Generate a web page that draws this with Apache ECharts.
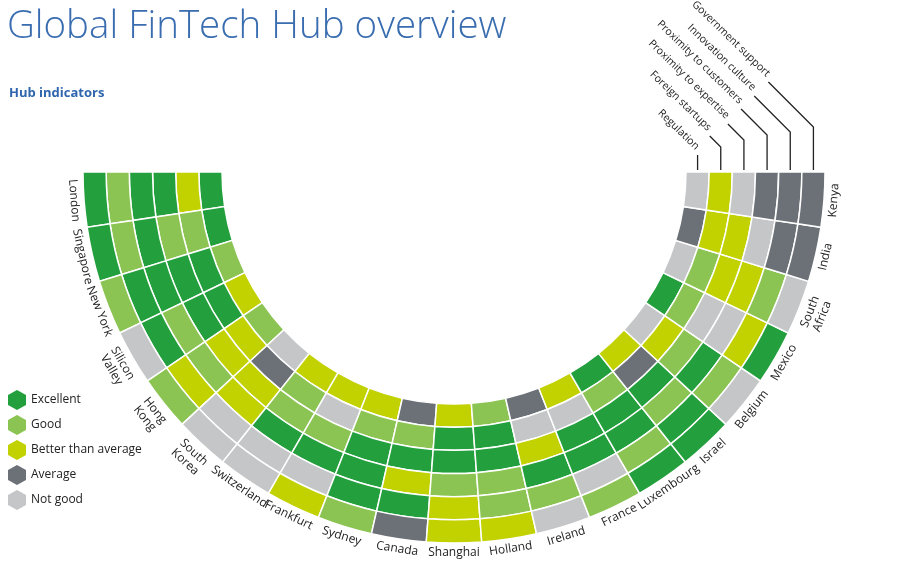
<!DOCTYPE html>
<html><head><meta charset="utf-8">
<script src="https://cdn.jsdelivr.net/npm/echarts@6/dist/echarts.min.js"></script>
<style>html,body{margin:0;padding:0;background:#fff}#c{width:900px;height:561px}</style>
</head><body><div id="c"></div>
<script>
const hubs = ['London','Singapore','New York','Silicon\nValley','Hong\nKong','South\nKorea','Switzerland','Frankfurt','Sydney','Canada','Shanghai','Holland','Ireland','France','Luxembourg','Israel','Belgium','Mexico','South\nAfrica','India','Kenya'];
const indicators = ['Regulation','Foreign startups','Proximity to expertise','Proximity to customers','Innovation culture','Government support'];
const levels = ['Excellent','Good','Better than average','Average','Not good'];
const levelColors = ['#23a03d','#8cc454','#c2d100','#6b7177','#c4c6c8'];
// codes: E Excellent, G Good, B Better than average, A Average, N Not good
const regulation      = ['E','E','G','B','G','N','B','B','B','A','B','G','A','B','E','B','N','E','N','A','N'];
const foreignStartups = ['B','G','E','E','B','A','G','N','G','G','E','E','N','N','G','A','B','G','G','B','B'];
const expertise       = ['E','G','E','E','B','B','G','G','E','E','E','E','B','E','E','E','G','N','B','B','N'];
const customers       = ['E','E','E','G','G','B','E','E','E','B','G','G','E','E','E','G','E','N','B','N','A'];
const innovation      = ['G','G','E','E','B','N','N','N','E','E','B','G','G','N','G','E','G','B','G','A','A'];
const government      = ['E','E','G','N','G','N','N','B','G','A','B','B','N','G','E','E','N','E','N','A','A'];
const rings = [regulation, foreignStartups, expertise, customers, innovation, government];
const codeIdx = {E:0,G:1,B:2,A:3,N:4};

const CX = 454, CY = 172, R0 = 232, R1 = 371;
const chart = echarts.init(document.getElementById('c'));
const series = hubs.map((h, i) => ({
  type: 'bar', coordinateSystem: 'polar', stack: 'hub', name: h.replace('\n',' '),
  barCategoryGap: '0%', silent: true,
  itemStyle: {borderColor: '#fff', borderWidth: 1.5},
  data: rings.map(arr => ({value: 1, itemStyle: {color: levelColors[codeIdx[arr[i]]]}}))
}));
levels.forEach((l, k) => series.push({
  type: 'bar', coordinateSystem: 'polar', stack: 'hub', name: l, data: [],
  itemStyle: {color: levelColors[k]}
}));

const graphics = [];
const font = '"Open Sans", sans-serif';
hubs.forEach((h, i) => {
  const phi = (i + 0.5) / hubs.length * Math.PI;
  const rr = h.includes('\n') ? R1 + 18 : R1 + 10;
  graphics.push({type: 'text', x: CX - rr * Math.cos(phi), y: CY + rr * Math.sin(phi),
    rotation: phi - Math.PI / 2,
    style: {text: h, fill: '#222', font: '12px ' + font, align: 'center', verticalAlign: 'middle', lineHeight: 13}});
});
// indicator leader lines on Kenya column
const rw = (R1 - R0) / indicators.length;
const lineTop = [155, 147, 140, 135, 132, 127];
const diag = [0, 11, 16, 26, 36, 45];
indicators.forEach((name, k) => {
  const x = CX + R0 + rw * (k + 0.5);
  const top = lineTop[k];
  const pts = [[x, 170], [x, top]];
  if (diag[k]) pts.push([x - diag[k], top - diag[k]]);
  graphics.push({type: 'polyline', shape: {points: pts}, style: {stroke: '#222', lineWidth: 1.3, fill: null}});
  const last = pts[pts.length - 1];
  graphics.push({type: 'text', x: last[0] - 4, y: last[1] - 3, rotation: -Math.PI * 0.245,
    style: {text: name, fill: '#222', font: '10.6px ' + font, align: 'right', verticalAlign: 'bottom'}});
});

chart.setOption({
  animation: false,
  title: [
    {text: 'Global FinTech Hub overview', left: 2, top: 3,
     textStyle: {fontFamily: 'Open Sans', fontWeight: 300, fontSize: 38.5, color: '#3a6db0'}},
    {text: 'Hub indicators', left: 4, top: 82,
     textStyle: {fontFamily: 'Open Sans', fontWeight: 'bold', fontSize: 13, color: '#2f66ad'}}
  ],
  polar: {center: [CX, CY], radius: [R0, R1]},
  angleAxis: {type: 'value', min: 0, max: hubs.length * 2, startAngle: 180, clockwise: false,
    show: false, splitLine: {show: false}},
  radiusAxis: {type: 'category', data: indicators, show: false},
  legend: {orient: 'vertical', left: 3, top: 385, data: levels, selectedMode: false,
    icon: 'path://M10,0 L19,5 L19,15 L10,20 L1,15 L1,5 Z', itemWidth: 18, itemHeight: 20, itemGap: 5,
    textStyle: {fontFamily: 'Open Sans', fontSize: 12, color: '#222'}},
  series: series,
  graphic: graphics
});
</script></body></html>
